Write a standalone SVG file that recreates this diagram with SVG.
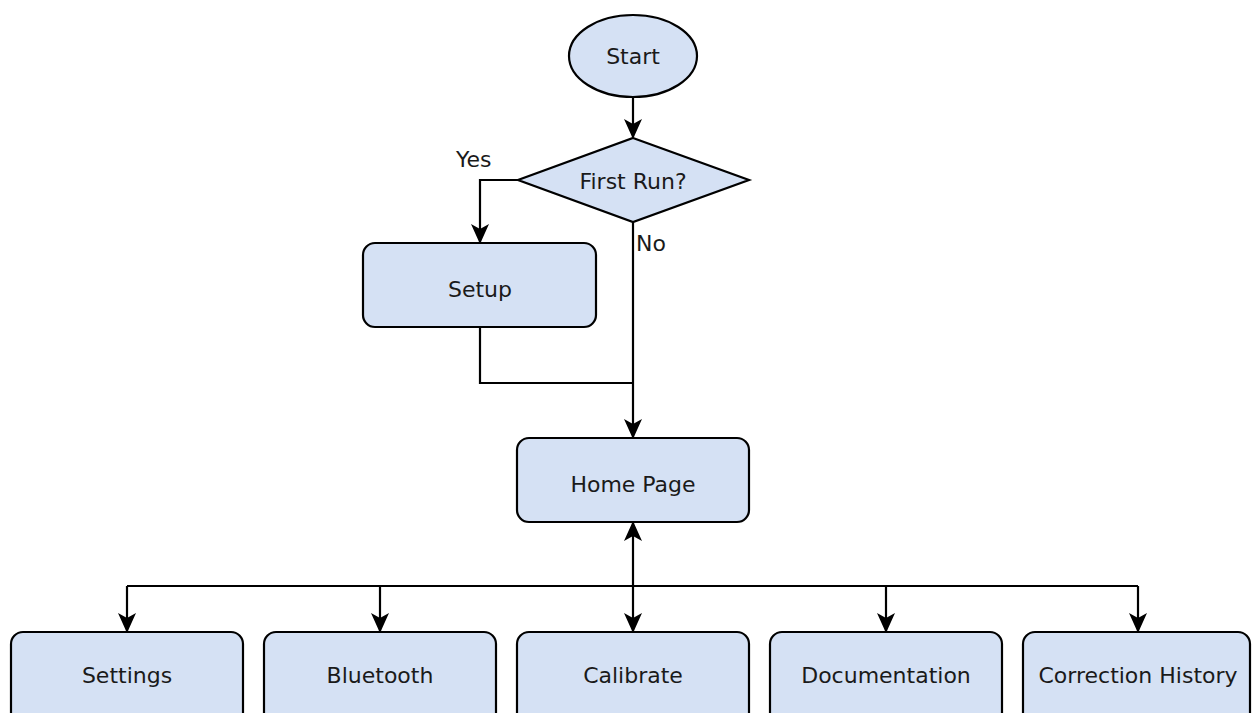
<svg xmlns="http://www.w3.org/2000/svg" width="1252" height="713" viewBox="0 0 1252 713">
<style>
.n{fill:#d5e1f4;stroke:#000;stroke-width:2.2}
.t{font-family:"DejaVu Sans",sans-serif;font-size:22px;fill:#1a1a1a;text-anchor:middle;dominant-baseline:central}
.c{fill:none;stroke:#000;stroke-width:2.2}
.l{font-family:"DejaVu Sans",sans-serif;font-size:22px;fill:#1a1a1a}
</style>
<defs>
<marker id="ah" markerWidth="20" markerHeight="18" refX="18" refY="9" orient="auto-start-reverse" markerUnits="userSpaceOnUse" viewBox="0 0 20 18">
<path d="M0,0 L20,9 L0,18 L5,9 Z" fill="#000"/>
</marker>
</defs>
<rect width="1252" height="713" fill="#fff"/>
<g id="connectors">
<path class="c" d="M633,97 V137" marker-end="url(#ah)"/>
<path class="c" d="M518,180 H480 V242" marker-end="url(#ah)"/>
<path class="c" d="M633,222 V437" marker-end="url(#ah)"/>
<path class="c" d="M480,327 V383 H633"/>
<path class="c" d="M633,586 V523" marker-end="url(#ah)"/>
<path class="c" d="M127,586 H1138"/>
<path class="c" d="M127,586 V631" marker-end="url(#ah)"/>
<path class="c" d="M380,586 V631" marker-end="url(#ah)"/>
<path class="c" d="M633,586 V631" marker-end="url(#ah)"/>
<path class="c" d="M886,586 V631" marker-end="url(#ah)"/>
<path class="c" d="M1138,586 V631" marker-end="url(#ah)"/>
<text class="l" x="456" y="167">Yes</text>
<text class="l" x="636" y="251">No</text>
</g>
<g id="start"><ellipse class="n" cx="633" cy="56" rx="64" ry="41"/><text class="t" x="633" y="56">Start</text></g>
<g id="firstrun"><path class="n" d="M633,138 L749,180 L633,222 L518,180 Z"/><text class="t" x="633" y="181">First Run?</text></g>
<g id="setup"><rect class="n" x="363" y="243" width="233" height="84" rx="12"/><text class="t" x="480" y="289">Setup</text></g>
<g id="home"><rect class="n" x="517" y="438" width="232" height="84" rx="12"/><text class="t" x="633" y="484">Home Page</text></g>
<g id="settings"><rect class="n" x="11" y="632" width="232" height="100" rx="12"/><text class="t" x="127" y="675">Settings</text></g>
<g id="bluetooth"><rect class="n" x="264" y="632" width="232" height="100" rx="12"/><text class="t" x="380" y="675">Bluetooth</text></g>
<g id="calibrate"><rect class="n" x="517" y="632" width="232" height="100" rx="12"/><text class="t" x="633" y="675">Calibrate</text></g>
<g id="documentation"><rect class="n" x="770" y="632" width="232" height="100" rx="12"/><text class="t" x="886" y="675">Documentation</text></g>
<g id="history"><rect class="n" x="1023" y="632" width="227" height="100" rx="12"/><text class="t" x="1138" y="675">Correction History</text></g>
</svg>
